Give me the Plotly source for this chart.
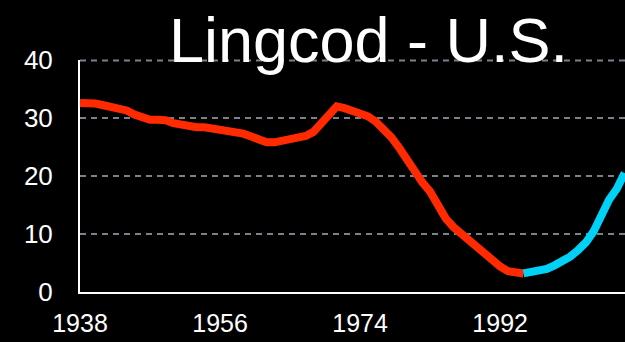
import plotly.graph_objects as go

# Lingcod spawning biomass index, U.S. stock
hist_years = list(range(1938, 1996))
hist_values = [
    32.6, 32.6, 32.5, 32.2, 31.9, 31.6, 31.3, 30.6, 30.1, 29.7,
    29.7, 29.6, 29.1, 28.8, 28.5, 28.4, 28.4, 28.2, 27.9, 27.7,
    27.6, 27.3, 26.8, 26.2, 25.8, 25.8, 26.1, 26.4, 26.6, 26.9,
    27.6, 29.1, 30.9, 32.0, 31.7, 31.3, 30.7, 30.3, 29.4, 28.2,
    26.7, 24.9, 22.8, 20.8, 18.9, 17.3, 15.1, 12.7, 11.2, 10.0,
    9.1, 7.9, 6.7, 5.5, 4.4, 3.6, 3.3, 3.2,
]
recent_years = list(range(1995, 2009))
recent_values = [3.2, 3.4, 3.7, 4.0, 4.6, 5.2, 6.1, 7.2, 8.5, 10.4,
                 13.1, 15.9, 17.8, 20.5]

x_ticks = [1938, 1956, 1974, 1992]
y_ticks = [0, 10, 20, 30, 40]
y_max = 40

FONT = "Liberation Sans, Arial, sans-serif"
GRID_COLOR = "#7a828c"
GRID_DASH = "6px,5px"

fig = go.Figure()
fig.add_trace(go.Scatter(
    x=hist_years, y=hist_values, mode="lines",
    line=dict(color="#ff2a00", width=8, shape="linear"),
    showlegend=False, hoverinfo="skip",
))
fig.add_trace(go.Scatter(
    x=recent_years, y=recent_values, mode="lines",
    line=dict(color="#00d2f7", width=8, shape="linear"),
    showlegend=False, hoverinfo="skip",
))

# gridline along the top edge of the plot area
fig.add_shape(
    type="line", xref="paper", yref="paper",
    x0=0, x1=1, y0=0.998, y1=0.998,
    line=dict(color=GRID_COLOR, width=2, dash=GRID_DASH),
    layer="below",
)

fig.update_layout(
    width=625, height=342,
    margin=dict(l=80, r=0, t=60, b=50),
    paper_bgcolor="black", plot_bgcolor="black",
    font=dict(family=FONT, color="white"),
    title=dict(
        text="Lingcod - U.S.",
        font=dict(family=FONT, size=63, color="white"),
        x=0.5896, xanchor="center", xref="container",
        y=0.884, yanchor="middle", yref="container",
    ),
    xaxis=dict(
        range=[1938, 2008.05],
        tickvals=x_ticks, ticktext=[str(v) for v in x_ticks],
        showgrid=False, zeroline=False,
        showline=True, linecolor="white", linewidth=2,
        ticks="", tickfont=dict(size=25, color="white"),
        ticklabelstandoff=8,
    ),
    yaxis=dict(
        range=[0, y_max],
        tickvals=y_ticks,
        showgrid=True, gridcolor=GRID_COLOR, gridwidth=2, griddash=GRID_DASH,
        zeroline=False,
        showline=True, linecolor="white", linewidth=2,
        ticks="", tickfont=dict(size=26, color="white"),
        ticklabelstandoff=20,
    ),
)

fig.write_html("out.html")
